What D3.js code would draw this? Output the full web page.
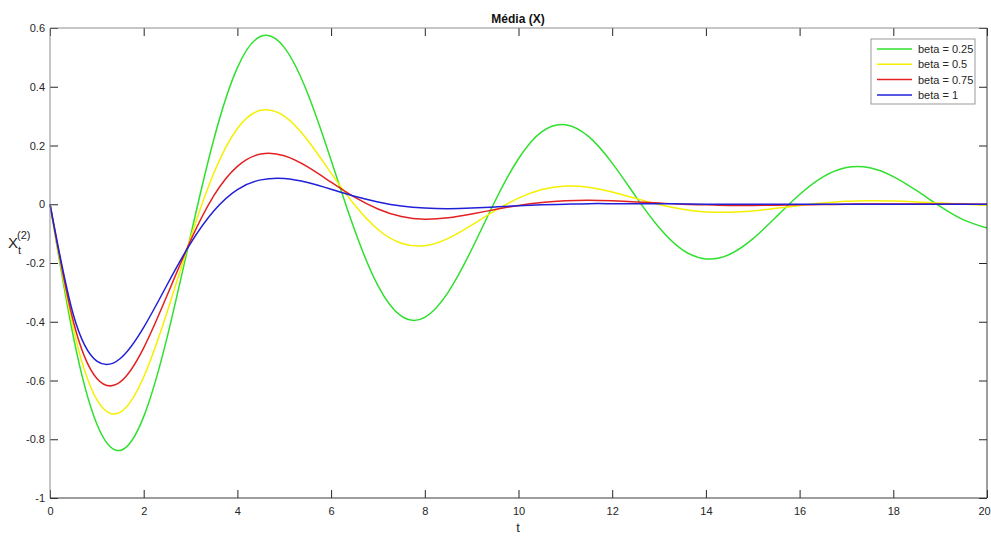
<!DOCTYPE html>
<html>
<head>
<meta charset="utf-8">
<script src="https://cdn.jsdelivr.net/npm/d3@7"></script>
<style>
  body { margin: 0; background: #fff; }
  svg { display: block; font-family: "Liberation Sans", Arial, sans-serif; }
  .tick text { font-size: 11px; fill: #262626; }
</style>
</head>
<body>
<div id="chart"></div>
<script>
// time grid (t = 0, 0.5, ..., 20)
var tValues = d3.range(0, 41).map(function(i) { return i * 0.5; });

// mean X for each beta at each t
var beta025 = [0.000, -0.452, -0.748, -0.838, -0.723, -0.453, -0.108, 0.223, 0.465, 0.572, 0.534, 0.377, 0.150, -0.087,
  -0.277, -0.381, -0.385, -0.299, -0.154, 0.011, 0.155, 0.247, 0.271, 0.230, 0.140, 0.027, -0.079, -0.155,
  -0.186, -0.171, -0.118, -0.043, 0.033, 0.093, 0.125, 0.124, 0.094, 0.046, -0.007, -0.053, -0.081];
var beta05 = [0.000, -0.424, -0.665, -0.708, -0.588, -0.367, -0.115, 0.107, 0.258, 0.320, 0.300, 0.218, 0.106, -0.002,
  -0.086, -0.133, -0.141, -0.116, -0.071, -0.022, 0.021, 0.050, 0.062, 0.058, 0.042, 0.020, -0.001, -0.017,
  -0.026, -0.027, -0.023, -0.014, -0.004, 0.004, 0.010, 0.012, 0.011, 0.008, 0.004, 0.000, -0.003];
var beta075 = [0.000, -0.400, -0.593, -0.605, -0.489, -0.310, -0.124, 0.030, 0.129, 0.171, 0.165, 0.127, 0.075, 0.024,
  -0.016, -0.042, -0.051, -0.046, -0.033, -0.018, -0.004, 0.006, 0.012, 0.014, 0.012, 0.008, 0.004, 0.000,
  -0.002, -0.004, -0.004, -0.003, -0.002, -0.001, 0.000, 0.001, 0.001, 0.001, 0.001, 0.001, 0.000];
var beta1 = [0.000, -0.377, -0.534, -0.525, -0.419, -0.274, -0.133, -0.022, 0.050, 0.083, 0.088, 0.074, 0.051, 0.027,
  0.008, -0.006, -0.013, -0.015, -0.013, -0.009, -0.005, -0.002, 0.000, 0.002, 0.002, 0.002, 0.002, 0.001,
  0.000, 0.000, 0.000, 0.000, 0.000, 0.000, 0.000, 0.000, 0.000, 0.000, 0.000, 0.000, 0.000];

var seriesNames = ["beta = 0.25", "beta = 0.5", "beta = 0.75", "beta = 1"];
var seriesValues = [beta025, beta05, beta075, beta1];
var seriesColors = ["#2fe02f", "#f5f000", "#e42020", "#2020d8"];

var xTicks = [0, 2, 4, 6, 8, 10, 12, 14, 16, 18, 20];
var yTicks = [-1, -0.8, -0.6, -0.4, -0.2, 0, 0.2, 0.4, 0.6];

var margin = {top: 28, right: 4, bottom: 38, left: 50};
var width = 991 - margin.left - margin.right,
    height = 536 - margin.top - margin.bottom;

var svg = d3.select("#chart").append("svg")
    .attr("width", 991)
    .attr("height", 536);

var g = svg.append("g")
    .attr("transform", "translate(" + margin.left + "," + margin.top + ")");

var x = d3.scaleLinear().domain([0, 20]).range([0, width]);
var y = d3.scaleLinear().domain([-1, 0.6]).range([height, 0]);

// axes (ticks point inwards, box on all four sides), plain hyphen for minus
var tickFmt = function(d) { return String(Math.round(d * 10) / 10); };

var xAxisGroup = g.append("g").attr("class", "axis x-axis")
    .attr("transform", "translate(0," + height + ")")
    .call(d3.axisBottom(x).tickValues(xTicks).tickSize(-8).tickPadding(9).tickFormat(tickFmt));
g.append("g").attr("class", "axis y-axis")
    .call(d3.axisLeft(y).tickValues(yTicks).tickSize(-8).tickPadding(5).tickFormat(tickFmt));
g.append("g").attr("class", "axis x-top")
    .call(d3.axisTop(x).tickValues(xTicks).tickSize(-8).tickFormat(""));
g.append("g").attr("class", "axis y-right")
    .attr("transform", "translate(" + width + ",0)")
    .call(d3.axisRight(y).tickValues(yTicks).tickSize(-8).tickFormat(""));

g.selectAll(".axis .domain").remove();
g.selectAll(".axis .tick line").attr("stroke", "#262626");

// keep the last x label inside the window
xAxisGroup.selectAll(".tick text")
    .filter(function(d) { return d === 20; })
    .attr("dx", -3);

// lines
var line = d3.line()
    .curve(d3.curveNatural)
    .x(function(d, i) { return x(tValues[i]); })
    .y(function(d) { return y(d); });

seriesValues.forEach(function(vals, k) {
  g.append("path")
    .datum(vals)
    .attr("fill", "none")
    .attr("stroke", seriesColors[k])
    .attr("stroke-width", 1.5)
    .attr("d", line);
});

// box
g.append("line").attr("x1", 0).attr("x2", width).attr("y1", 0).attr("y2", 0)
    .attr("stroke", "#8c8c8c");
g.append("line").attr("x1", 0).attr("x2", 0).attr("y1", 0).attr("y2", height)
    .attr("stroke", "#8c8c8c");
g.append("line").attr("x1", 0).attr("x2", width).attr("y1", height).attr("y2", height)
    .attr("stroke", "#3c3c3c");
g.append("line").attr("x1", width).attr("x2", width).attr("y1", 0).attr("y2", height)
    .attr("stroke", "#3c3c3c");

// title and axis labels
svg.append("text")
    .attr("x", 518).attr("y", 23)
    .attr("text-anchor", "middle")
    .style("font-size", "12px").style("font-weight", "bold").style("fill", "#111")
    .text("Média (X)");

svg.append("text")
    .attr("x", 518).attr("y", 532)
    .attr("text-anchor", "middle")
    .style("font-size", "13px").style("fill", "#262626")
    .text("t");

var yl = svg.append("text")
    .attr("x", 8).attr("y", 248)
    .style("font-size", "15px").style("fill", "#262626");
yl.append("tspan").text("X");
yl.append("tspan").attr("dy", 6).style("font-size", "11px").text("t");
yl.append("tspan").attr("dx", -4).attr("dy", -15).style("font-size", "11px").text("(2)");

// legend
var legend = svg.append("g").attr("transform", "translate(871,39)");
legend.append("rect")
    .attr("width", 104).attr("height", 65)
    .attr("fill", "#fff").attr("stroke", "#999");
seriesNames.forEach(function(name, k) {
  var yy = 10 + k * 15.3;
  legend.append("line")
    .attr("x1", 6).attr("x2", 41).attr("y1", yy).attr("y2", yy)
    .attr("stroke", seriesColors[k]).attr("stroke-width", 1.5);
  legend.append("text")
    .attr("x", 47).attr("y", yy + 4)
    .style("font-size", "11px").style("fill", "#262626")
    .text(name);
});
</script>
</body>
</html>
